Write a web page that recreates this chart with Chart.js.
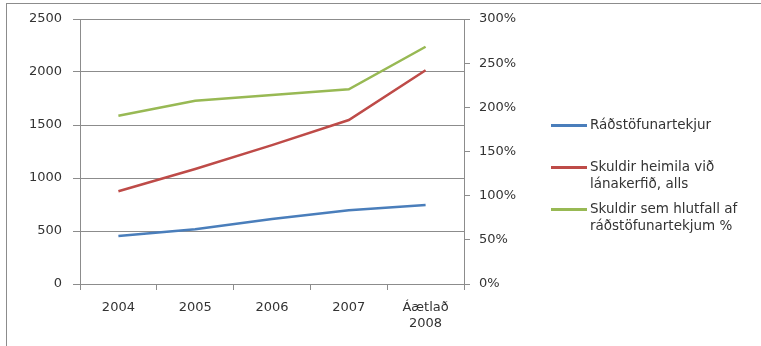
<!DOCTYPE html>
<html>
<head>
<meta charset="utf-8">
<script src="https://cdn.jsdelivr.net/npm/chart.js@4"></script>
<style>
  html, body { margin: 0; padding: 0; background: #fff; }
  #wrap { position: relative; width: 761px; height: 346px; overflow: hidden; }
  #frame { position: absolute; left: 6px; top: 3px; right: -2px; bottom: -2px;
           border-top: 1px solid #8c8c8c; border-left: 1px solid #8c8c8c; pointer-events: none; }
  canvas { position: absolute; left: 0; top: 0; }
  #legend { position: absolute; left: 551px; top: 0; font-family: "DejaVu Sans", sans-serif;
            font-size: 13.5px; color: #333; }
  .item { position: absolute; left: 0; white-space: nowrap; }
  .swatch { position: absolute; left: 0; width: 36px; height: 3px; }
  .txt { position: absolute; left: 39px; line-height: 17px; }
</style>
</head>
<body>
<div id="wrap">
  <canvas id="c" width="761" height="346"></canvas>
  <div id="frame"></div>
  <div id="legend"></div>
</div>
<script>
// Categories and series
const categories = ['2004', '2005', '2006', '2007', ['Áætlað', '2008']];
const radstofunartekjur = [453, 516, 613, 695, 745];
const skuldirHeimila = [875, 1085, 1310, 1547, 2016];
const skuldirHlutfall = [190.5, 207.5, 214, 220.4, 268.6];

const seriesNames = [
  ['Ráðstöfunartekjur'],
  ['Skuldir heimila við', 'lánakerfið, alls'],
  ['Skuldir sem hlutfall af', 'ráðstöfunartekjum %']
];
const seriesColors = ['#4a7ebb', '#be4b48', '#98b954'];

const leftTicks = [0, 500, 1000, 1500, 2000, 2500];
const rightTicks = [0, 50, 100, 150, 200, 250, 300];

const tickFont = { family: 'DejaVu Sans', size: 13 };
const tickColor = '#333';
const axisGray = '#8c8c8c';

new Chart(document.getElementById('c'), {
  type: 'line',
  data: {
    labels: categories,
    datasets: [
      { label: seriesNames[0].join(' '), data: radstofunartekjur, yAxisID: 'y',
        borderColor: seriesColors[0], borderWidth: 2.5, pointRadius: 0, tension: 0 },
      { label: seriesNames[1].join(' '), data: skuldirHeimila, yAxisID: 'y',
        borderColor: seriesColors[1], borderWidth: 2.5, pointRadius: 0, tension: 0 },
      { label: seriesNames[2].join(' '), data: skuldirHlutfall, yAxisID: 'y1',
        borderColor: seriesColors[2], borderWidth: 2.5, pointRadius: 0, tension: 0 }
    ]
  },
  options: {
    responsive: false,
    animation: false,
    layout: { padding: { left: 0, right: 237, top: 19, bottom: 12 } },
    plugins: { legend: { display: false }, tooltip: { enabled: false } },
    scales: {
      x: {
        offset: true,
        grid: { offset: true, drawOnChartArea: false, tickLength: 6, color: axisGray },
        border: { color: axisGray },
        ticks: { font: tickFont, color: tickColor, padding: 10, maxRotation: 0 },
        afterFit: s => { s.height = 50; }
      },
      y: {
        position: 'left',
        min: 0, max: 2500,
        afterBuildTicks: s => { s.ticks = leftTicks.map(v => ({ value: v })); },
        grid: { color: axisGray, tickLength: 7 },
        border: { color: axisGray },
        ticks: { font: tickFont, color: tickColor, padding: 11, callback: v => String(v) },
        afterFit: s => { s.width = 80; }
      },
      y1: {
        position: 'right',
        min: 0, max: 300,
        afterBuildTicks: s => { s.ticks = rightTicks.map(v => ({ value: v })); },
        grid: { drawOnChartArea: false, color: axisGray, tickLength: 6 },
        border: { color: axisGray },
        ticks: { font: tickFont, color: tickColor, padding: 9, callback: v => v + '%' },
        afterFit: s => { s.width = 60; }
      }
    }
  }
});

// Legend drawn as HTML next to the chart
const legendTop = [125, 167, 209];
const legend = document.getElementById('legend');
seriesNames.forEach((lines, i) => {
  const item = document.createElement('div');
  item.className = 'item';
  item.style.top = legendTop[i] + 'px';
  const sw = document.createElement('div');
  sw.className = 'swatch';
  sw.style.background = seriesColors[i];
  sw.style.top = '-1px';
  const tx = document.createElement('div');
  tx.className = 'txt';
  tx.style.top = '-9px';
  tx.innerHTML = lines.join('<br>');
  item.appendChild(sw);
  item.appendChild(tx);
  legend.appendChild(item);
});
</script>
</body>
</html>
